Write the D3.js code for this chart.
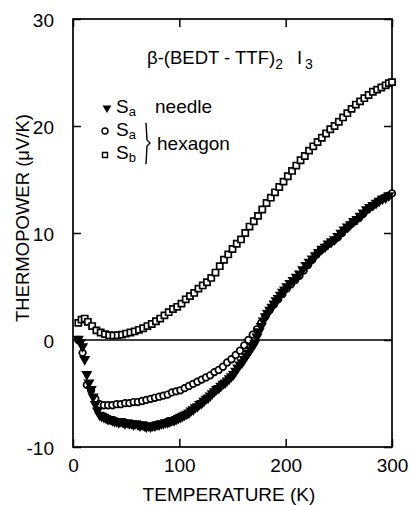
<!DOCTYPE html>
<html><head><meta charset="utf-8">
<script src="https://cdn.jsdelivr.net/npm/d3@7"></script>
<style>
body{margin:0;background:#fff}
text{font-family:"Liberation Sans",Arial,sans-serif;fill:#000}
</style>
</head><body>
<svg id="c" width="410" height="505"></svg>
<script>
// ---- data (T in K, S in µV/K) ----
const xTicks = [0, 100, 200, 300];
const yTicks = [-10, 0, 10, 20, 30];

// S_b, hexagon crystal (open squares)
const sbHex = [[5,1.6],[8,1.9],[11,2.0],[14,1.7],[18,1.3],[22,0.9],[26,0.7],[30,0.55],[34,0.45],[38,0.42],[42,0.45],[46,0.5],[50,0.6],[54,0.7],[58,0.8],[62,0.95],[66,1.1],[70,1.3],[74,1.5],[78,1.75],[82,2.0],[86,2.3],[90,2.6],[94,2.9],[98,3.1],[102,3.4],[106,3.8],[110,4.1],[114,4.4],[118,4.8],[122,5.1],[126,5.4],[130,5.8],[134,6.3],[138,6.9],[142,7.5],[146,8.0],[150,8.5],[154,9.0],[158,9.4],[162,10.0],[166,10.6],[170,11.1],[174,11.6],[178,12.2],[182,12.8],[186,13.3],[190,13.8],[194,14.3],[198,14.8],[202,15.3],[206,15.8],[210,16.3],[214,16.8],[218,17.2],[222,17.7],[226,18.1],[230,18.5],[234,18.9],[238,19.3],[242,19.7],[246,20.0],[250,20.4],[254,20.8],[258,21.2],[262,21.6],[266,22.0],[270,22.3],[274,22.6],[278,22.9],[282,23.2],[286,23.4],[290,23.6],[294,23.8],[297,24.0],[300,24.1]];

// S_a, hexagon crystal (open circles)
const saHex = [[5,0.0],[9,-1.2],[13,-4.2],[17,-4.7],[21,-5.5],[25,-6.0],[29,-6.1],[33,-6.1],[37,-6.1],[41,-6.0],[45,-6.0],[49,-5.9],[53,-5.9],[57,-5.8],[61,-5.8],[65,-5.7],[69,-5.6],[73,-5.5],[77,-5.4],[81,-5.3],[85,-5.2],[89,-5.1],[93,-4.9],[97,-4.8],[101,-4.7],[105,-4.5],[109,-4.3],[113,-4.1],[117,-3.9],[121,-3.7],[125,-3.5],[129,-3.3],[133,-3.0],[137,-2.8],[141,-2.5],[145,-2.1],[149,-1.8],[153,-1.4],[157,-1.0],[161,-0.5],[165,0.0],[169,0.5],[173,1.0],[177,1.6],[181,2.2],[185,2.8],[189,3.3],[193,3.8],[197,4.3],[201,4.8],[205,5.2],[209,5.6],[213,6.0],[217,6.5],[221,7.0],[225,7.5],[229,8.0],[233,8.4],[237,8.7],[241,9.0],[245,9.3],[249,9.6],[253,10.0],[257,10.4],[261,10.8],[265,11.1],[269,11.4],[273,11.8],[277,12.2],[281,12.5],[285,12.8],[289,13.1],[293,13.3],[297,13.5],[300,13.7]];

// S_a, needle crystal (filled down-triangles)
const saNeedle = [[5,0.1],[7,-0.2],[9,-0.6],[11,-1.8],[13,-3.2],[15,-4.0],[17,-4.6],[19,-5.3],[21,-6.0],[23,-6.6],[25,-7.0],[27,-7.1],[29,-7.2],[31,-7.3],[33,-7.4],[35,-7.4],[37,-7.5],[39,-7.6],[41,-7.6],[43,-7.7],[45,-7.6],[47,-7.7],[49,-7.8],[51,-7.7],[53,-7.8],[55,-7.8],[57,-7.9],[59,-7.8],[61,-7.9],[63,-8.0],[65,-7.9],[67,-8.0],[69,-8.1],[71,-8.0],[73,-8.1],[75,-8.0],[77,-8.0],[79,-7.9],[81,-7.9],[83,-7.8],[85,-7.8],[87,-7.7],[89,-7.7],[91,-7.6],[93,-7.5],[95,-7.5],[97,-7.4],[99,-7.3],[101,-7.2],[103,-7.1],[105,-7.0],[107,-6.9],[109,-6.8],[111,-6.6],[113,-6.5],[115,-6.3],[117,-6.2],[119,-6.0],[121,-5.9],[123,-5.7],[125,-5.5],[127,-5.4],[129,-5.2],[131,-5.0],[133,-4.8],[135,-4.6],[137,-4.5],[139,-4.3],[141,-4.1],[143,-4.0],[145,-3.8],[147,-3.6],[149,-3.4],[151,-3.2],[153,-2.9],[155,-2.6],[157,-2.3],[159,-2.1],[161,-1.8],[163,-1.5],[165,-1.2],[167,-0.9],[169,-0.6],[171,-0.3],[173,0.3],[175,0.8],[177,1.3],[179,1.8],[181,2.2],[183,2.5],[185,2.8],[187,3.1],[189,3.4],[191,3.7],[193,3.9],[195,4.2],[197,4.5],[199,4.7],[201,5.0],[204,5.3],[207,5.6],[210,5.9],[213,6.2],[216,6.6],[219,7.0],[222,7.3],[225,7.6],[228,7.9],[231,8.2],[234,8.5],[237,8.7],[240,9.0],[243,9.2],[246,9.4],[249,9.7],[252,10.0],[255,10.3],[258,10.6],[261,10.8],[264,11.1],[267,11.3],[270,11.6],[273,11.9],[276,12.2],[279,12.4],[282,12.6],[285,12.8],[288,13.0],[291,13.2],[294,13.3],[297,13.5]];

// ---- drawing ----
const svg = d3.select("#c");
const x = d3.scaleLinear().domain([0, 300]).range([73, 392]);
const y = d3.scaleLinear().domain([-10, 30]).range([447, 19]);
const FONT = '"Liberation Sans", Arial, sans-serif';

function styleAxis(g, labels) {
  g.attr("font-family", FONT).attr("font-size", 19);
  g.select(".domain").remove();
  g.selectAll(".tick line").attr("stroke", "#000").attr("stroke-width", 1.5);
  if (!labels) g.selectAll(".tick text").remove();
}
// bottom
svg.append("g").attr("transform", `translate(0,${y(-10)})`)
  .call(d3.axisBottom(x).tickValues(xTicks).tickSizeInner(-8).tickPadding(20).tickFormat(d3.format("d")))
  .call(g => styleAxis(g, true))
  .call(g => g.selectAll(".tick text").attr("dy", "0.25em"));
// top
svg.append("g").attr("transform", `translate(0,${y(30)})`)
  .call(d3.axisTop(x).tickValues(xTicks).tickSizeInner(-8))
  .call(g => styleAxis(g, false));
// left
svg.append("g").attr("transform", `translate(${x(0)},0)`)
  .call(d3.axisLeft(y).tickValues(yTicks).tickSizeInner(-8).tickPadding(19).tickFormat(d => d < 0 ? "-" + Math.abs(d) : d))
  .call(g => styleAxis(g, true))
  .call(g => g.selectAll(".tick text").attr("dy", "0.4em"));
// right
svg.append("g").attr("transform", `translate(${x(300)},0)`)
  .call(d3.axisRight(y).tickValues(yTicks).tickSizeInner(-8))
  .call(g => styleAxis(g, false));

// frame
svg.append("rect").attr("x", x(0)).attr("y", y(30))
  .attr("width", x(300) - x(0)).attr("height", y(-10) - y(30))
  .attr("fill", "none").attr("stroke", "#000").attr("stroke-width", 1.7);

// zero line
svg.append("line").attr("x1", x(0)).attr("x2", x(300)).attr("y1", y(0)).attr("y2", y(0))
  .attr("stroke", "#000").attr("stroke-width", 1.4);

const sq = d3.symbol().type(d3.symbolSquare).size(38);
const tri = d3.symbol().type(d3.symbolTriangle).size(30);

// S_b squares
svg.append("g").selectAll("path").data(sbHex).join("path")
  .attr("d", sq).attr("transform", d => `translate(${x(d[0])},${y(d[1])})`)
  .attr("fill", "#fff").attr("stroke", "#000").attr("stroke-width", 1.7);
// S_a hexagon circles
svg.append("g").selectAll("circle").data(saHex).join("circle")
  .attr("cx", d => x(d[0])).attr("cy", d => y(d[1])).attr("r", 3.3)
  .attr("fill", "#fff").attr("stroke", "#000").attr("stroke-width", 1.7);
// S_a needle triangles
svg.append("g").selectAll("path").data(saNeedle).join("path")
  .attr("d", tri).attr("transform", d => `translate(${x(d[0])},${y(d[1])}) rotate(180)`)
  .attr("fill", "#000").attr("stroke", "#000").attr("stroke-width", 1.6);

// title
const title = svg.append("text").attr("x", 147).attr("y", 64).attr("font-size", 18.5);
title.append("tspan").text("β-(BEDT - TTF)");
title.append("tspan").attr("font-size", 14).attr("dy", 5).text("2");
title.append("tspan").attr("dy", -5).attr("dx", 14).text("I");
title.append("tspan").attr("font-size", 14).attr("dy", 5).attr("dx", 3).text("3");

// legend
svg.append("path").attr("d", d3.symbol().type(d3.symbolTriangle).size(34))
  .attr("transform", "translate(107,108) rotate(180)").attr("fill", "#000");
svg.append("circle").attr("cx", 105).attr("cy", 131).attr("r", 3)
  .attr("fill", "#fff").attr("stroke", "#000").attr("stroke-width", 1.4);
svg.append("path").attr("d", d3.symbol().type(d3.symbolSquare).size(25))
  .attr("transform", "translate(105,155)").attr("fill", "#fff").attr("stroke", "#000").attr("stroke-width", 1.4);

function sLabel(yy, sub) {
  const t = svg.append("text").attr("x", 116).attr("y", yy).attr("font-size", 19);
  t.append("tspan").text("S");
  t.append("tspan").attr("font-size", 13).attr("dy", 3).text(sub);
}
sLabel(113, "a");
sLabel(136, "a");
sLabel(159, "b");
svg.append("text").attr("x", 155).attr("y", 113).attr("font-size", 19).text("needle");
svg.append("text").attr("x", 157).attr("y", 150).attr("font-size", 19).text("hexagon");
svg.append("path").attr("d", "M146,123 L147,140 L150,143 L147,146 L146,164")
  .attr("fill", "none").attr("stroke", "#000").attr("stroke-width", 1.4);

// axis titles
svg.append("text").attr("x", 229).attr("y", 501).attr("text-anchor", "middle")
  .attr("font-size", 19).text("TEMPERATURE (K)");
svg.append("text").attr("transform", "translate(29,218) rotate(-90)").attr("text-anchor", "middle")
  .attr("font-size", 18.5).text("THERMOPOWER (μV/K)");
</script>
</body></html>
